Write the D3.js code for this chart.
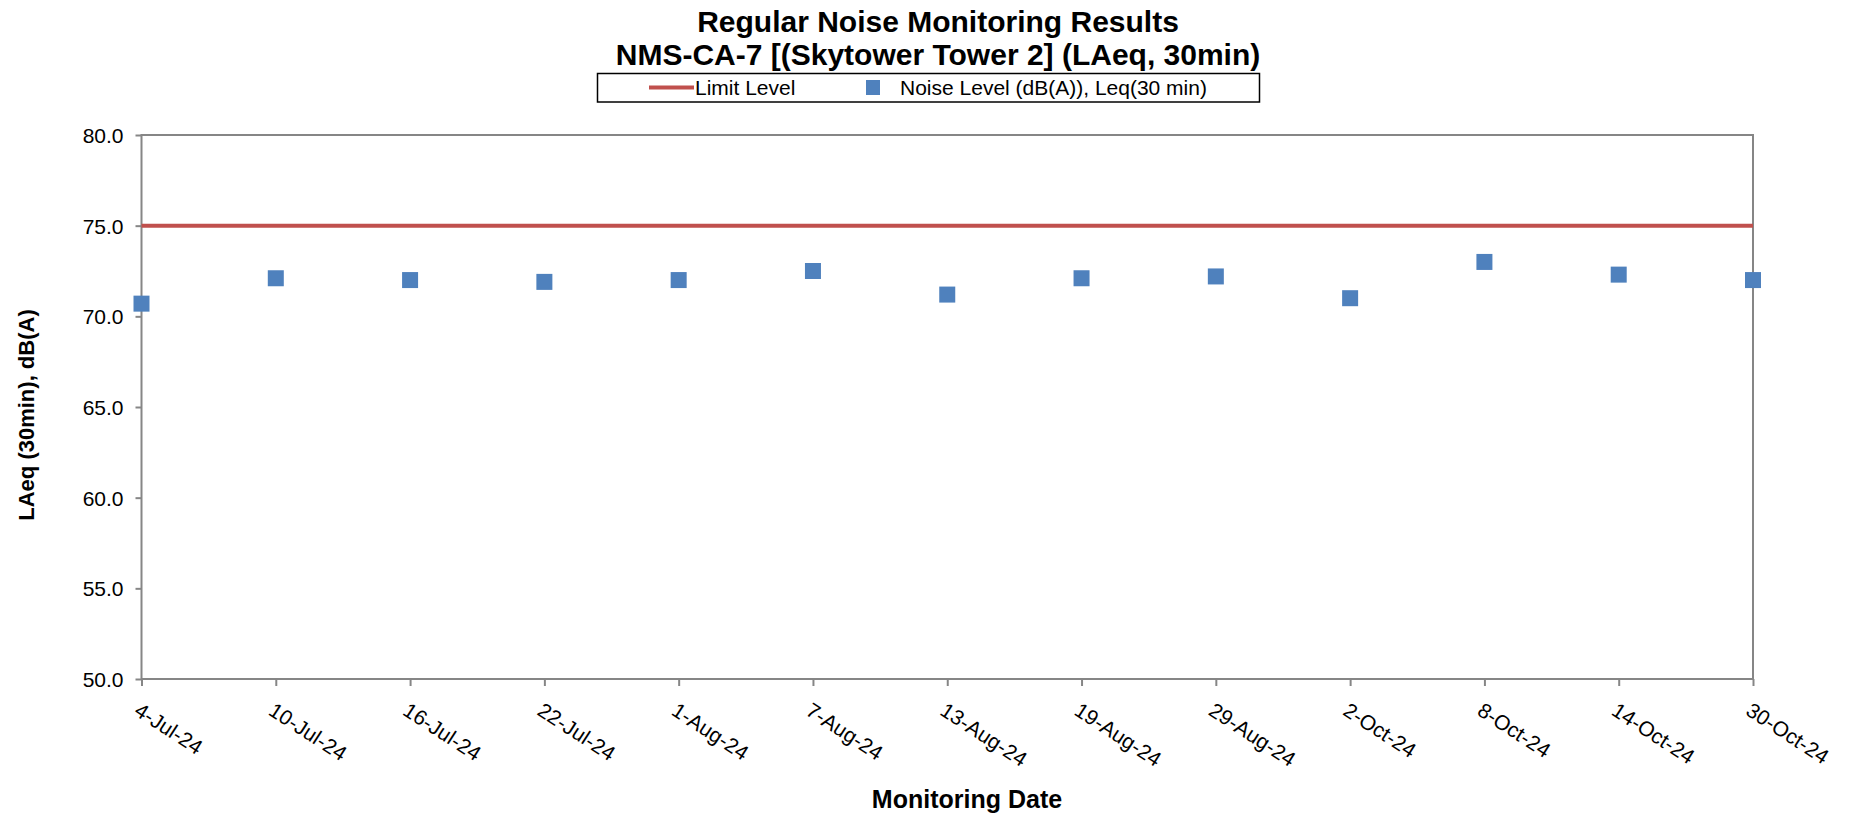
<!DOCTYPE html>
<html>
<head>
<meta charset="utf-8">
<script src="https://cdn.jsdelivr.net/npm/d3@7/dist/d3.min.js"></script>
<style>
  body { margin: 0; background: #fff; }
  text { font-family: "Liberation Sans", Arial, sans-serif; fill: #000; }
</style>
</head>
<body>
<svg id="chart" width="1859" height="817"></svg>
<script>
// chart values
var dates = ["4-Jul-24", "10-Jul-24", "16-Jul-24", "22-Jul-24", "1-Aug-24", "7-Aug-24",
             "13-Aug-24", "19-Aug-24", "29-Aug-24", "2-Oct-24", "8-Oct-24", "14-Oct-24", "30-Oct-24"];
var noiseLevel = [70.7, 72.1, 72.0, 71.9, 72.0, 72.5, 71.2, 72.1, 72.2, 71.0, 73.0, 72.3, 72.0];
var limitLevel = [75, 75, 75, 75, 75, 75, 75, 75, 75, 75, 75, 75, 75];
var yTicks = [50, 55, 60, 65, 70, 75, 80];

var titleLines = ["Regular Noise Monitoring Results", "NMS-CA-7 [(Skytower Tower 2] (LAeq, 30min)"];
var legendNames = ["Limit Level", "Noise Level (dB(A)), Leq(30 min)"];

var svg = d3.select("#chart");
// plot box (window.top is reserved, so no "top" here)
var plotL = 141.5, plotR = 1753, plotT = 135, plotB = 679;
var axisColor = "#868686";

var x = d3.scalePoint().domain(dates).range([plotL, plotR]);
var y = d3.scaleLinear().domain([50, 80]).range([plotB, plotT]);

// plot frame
svg.append("rect")
	.attr("x", plotL)
	.attr("y", plotT)
	.attr("width", plotR - plotL)
	.attr("height", plotB - plotT)
	.attr("fill", "none")
	.attr("stroke", axisColor)
	.attr("stroke-width", 2);

// y axis
var gy = svg.append("g")
	.attr("transform", "translate(" + plotL + ",0)")
	.call(d3.axisLeft(y).tickValues(yTicks).tickFormat(d3.format(".1f"))
		.tickSize(6).tickSizeOuter(0).tickPadding(12));
gy.select(".domain").remove();
gy.selectAll(".tick line").attr("stroke", axisColor).attr("stroke-width", 2);
gy.selectAll(".tick text").style("font-size", "21px").attr("dy", "0.36em");

// x axis
var gx = svg.append("g")
	.attr("transform", "translate(0," + plotB + ")")
	.call(d3.axisBottom(x).tickSize(7).tickSizeOuter(0));
gx.select(".domain").remove();
gx.selectAll(".tick line").attr("stroke", axisColor).attr("stroke-width", 2);
gx.selectAll(".tick text")
	.style("font-size", "21px")
	.attr("text-anchor", "start")
	.attr("x", null).attr("y", null).attr("dy", null)
	.attr("transform", "translate(-9,35) rotate(33)");

// limit line
var line = d3.line()
	.x(function(d, i) { return x(dates[i]); })
	.y(function(d) { return y(d); });
svg.append("path")
	.datum(limitLevel)
	.attr("d", line)
	.attr("fill", "none")
	.attr("stroke", "#C0504D")
	.attr("stroke-width", 4);

// noise points
var size = 16;
svg.selectAll("rect.pt")
	.data(noiseLevel)
	.enter().append("rect")
	.attr("class", "pt")
	.attr("x", function(d, i) { return x(dates[i]) - size / 2; })
	.attr("y", function(d) { return y(d) - size / 2; })
	.attr("width", size)
	.attr("height", size)
	.attr("fill", "#4F81BD");

// titles
svg.selectAll("text.title")
	.data(titleLines)
	.enter().append("text")
	.attr("class", "title")
	.attr("x", 938)
	.attr("y", function(d, i) { return 32 + i * 33; })
	.attr("text-anchor", "middle")
	.style("font-size", "30px")
	.style("font-weight", "bold")
	.text(function(d) { return d; });

svg.append("text")
	.attr("x", 967)
	.attr("y", 808)
	.attr("text-anchor", "middle")
	.style("font-size", "25px")
	.style("font-weight", "bold")
	.text("Monitoring Date");

svg.append("text")
	.attr("transform", "translate(34,415) rotate(-90)")
	.attr("text-anchor", "middle")
	.style("font-size", "22px")
	.style("font-weight", "bold")
	.text("LAeq (30min), dB(A)");

// legend
var legend = svg.append("g");
legend.append("rect")
	.attr("x", 597.5).attr("y", 73.5)
	.attr("width", 662).attr("height", 28.5)
	.attr("fill", "#fff")
	.attr("stroke", "#000")
	.attr("stroke-width", 1.5);
legend.append("line")
	.attr("x1", 649).attr("x2", 694)
	.attr("y1", 87.5).attr("y2", 87.5)
	.attr("stroke", "#C0504D")
	.attr("stroke-width", 4);
legend.append("rect")
	.attr("x", 866).attr("y", 80)
	.attr("width", 14).attr("height", 15)
	.attr("fill", "#4F81BD");
legend.selectAll("text")
	.data(legendNames)
	.enter().append("text")
	.attr("x", function(d, i) { return i == 0 ? 695 : 900; })
	.attr("y", 95)
	.style("font-size", "21px")
	.text(function(d) { return d; });
</script>
</body>
</html>
